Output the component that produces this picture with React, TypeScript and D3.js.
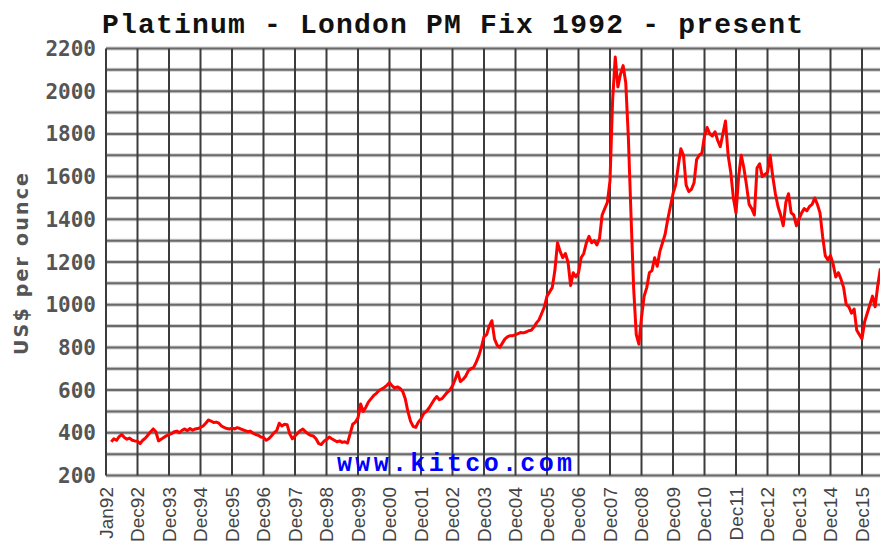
import React, { useEffect, useRef } from 'react';
import * as d3 from 'd3';

// Monthly London PM fix, US$ per ounce, starting March 1992
const startYear = 1992;
const startMonth = 2; // 0 = Jan
const monthlyPrices: number[] = [
  // 1992 (Mar-Dec)
  358, 372, 365, 382, 392, 378, 370, 375, 365, 362,
  // 1993
  360, 350, 365, 375, 390, 405, 418, 405, 362, 370, 378, 386,
  // 1994
  392, 396, 405, 408, 400, 412, 418, 410, 420, 412, 418, 420,
  // 1995
  425, 432, 445, 460, 455, 448, 450, 445, 432, 425, 420, 418,
  // 1996
  422, 418, 424, 420, 415, 410, 405, 408, 398, 392, 388, 380,
  // 1997
  378, 365, 372, 385, 400, 410, 445, 432, 440, 438, 395, 372,
  // 1998
  385, 398, 410, 418, 405, 395, 388, 385, 372, 350, 345, 360,
  // 1999
  368, 380, 372, 365, 358, 362, 355, 358, 352, 395, 440, 450,
  // 2000
  470, 535, 500, 520, 545, 560, 575, 585, 598, 605, 612, 622,
  // 2001
  635, 620, 610, 615, 608, 595, 560, 500, 455, 430, 425, 450,
  // 2002
  465, 490, 500, 515, 535, 555, 570, 555, 560, 575, 590, 600,
  // 2003
  620, 650, 685, 640, 650, 665, 690, 700, 705, 730, 760, 800,
  // 2004
  850, 860, 900, 925, 840, 810, 800, 820, 840, 850, 855, 855,
  // 2005
  860, 865, 870, 868, 872, 878, 880, 895, 915, 930, 960, 990,
  // 2006
  1040, 1060, 1080, 1160, 1290, 1250, 1220, 1240, 1200, 1090, 1150, 1130,
  // 2007
  1150, 1220, 1240, 1290, 1320, 1290, 1300, 1280, 1310, 1420, 1450, 1480,
  // 2008
  1580, 1960, 2160, 2020, 2080, 2120, 2040, 1780, 1420, 1080, 860, 815,
  // 2009
  940, 1040, 1080, 1150, 1160, 1220, 1180, 1250, 1290, 1330, 1400, 1460,
  // 2010
  1520, 1560, 1650, 1730, 1700, 1560, 1530, 1540, 1570, 1680, 1700, 1710,
  // 2011
  1790, 1830, 1800, 1790, 1810, 1770, 1740, 1800, 1860, 1700, 1620, 1500,
  // 2012
  1430, 1600, 1700, 1640, 1560, 1470, 1450, 1420, 1640, 1660, 1600, 1610,
  // 2013
  1620, 1700, 1600, 1520, 1460, 1420, 1370, 1480, 1520, 1430, 1420, 1370,
  // 2014
  1400, 1430, 1450, 1440, 1460, 1470, 1500, 1470, 1430, 1320, 1230, 1210,
  // 2015
  1230, 1190, 1130, 1150, 1120, 1080, 1000, 990, 960, 980, 880, 860,
  // 2016
  840, 920, 960, 1000, 1040, 990, 1090, 1170,
];

const xTickLabels = [
  'Jan92', 'Dec92', 'Dec93', 'Dec94', 'Dec95', 'Dec96', 'Dec97', 'Dec98',
  'Dec99', 'Dec00', 'Dec01', 'Dec02', 'Dec03', 'Dec04', 'Dec05', 'Dec06',
  'Dec07', 'Dec08', 'Dec09', 'Dec10', 'Dec11', 'Dec12', 'Dec13', 'Dec14', 'Dec15',
];
const yTicks = [200, 400, 600, 800, 1000, 1200, 1400, 1600, 1800, 2000, 2200];
const yGrid = d3.range(200, 2201, 100);

const App = () => {
  const svgRef = useRef<SVGSVGElement>(null);
  const width = 880;
  const height = 543;

  useEffect(() => {
    const svg = d3.select(svgRef.current);
    svg.selectAll('*').remove();

    const left = 106;
    const top = 48.5;
    const bottom = 475.5;

    const x = d3.scaleLinear().domain([startYear, startYear + 24]).range([left, 862]);
    const y = d3.scaleLinear().domain([200, 2200]).range([bottom, top]);

    svg.append('rect').attr('width', width).attr('height', height).attr('fill', '#fff');

    // Title
    svg.append('text')
      .attr('x', 102)
      .attr('y', 33)
      .attr('textLength', 701)
      .attr('lengthAdjust', 'spacing')
      .style('font-family', '"Liberation Mono", "DejaVu Sans Mono", monospace')
      .style('font-weight', 'bold')
      .style('font-size', '28px')
      .style('fill', '#111')
      .text('Platinum - London PM Fix 1992 - present');

    // Horizontal grid
    const g = svg.append('g');
    g.selectAll('.hgrid-soft')
      .data(yGrid)
      .join('line')
      .attr('x1', left)
      .attr('x2', width)
      .attr('y1', d => y(d))
      .attr('y2', d => y(d))
      .attr('stroke', '#cfcfcf')
      .attr('stroke-width', 4);
    g.selectAll('.hgrid')
      .data(yGrid)
      .join('line')
      .attr('x1', left)
      .attr('x2', width)
      .attr('y1', d => y(d))
      .attr('y2', d => y(d))
      .attr('stroke', '#6a6a6a')
      .attr('stroke-width', 2);

    // Vertical grid
    g.selectAll('.vgrid')
      .data(xTickLabels)
      .join('line')
      .attr('x1', (d, i) => x(startYear + i))
      .attr('x2', (d, i) => x(startYear + i))
      .attr('y1', top)
      .attr('y2', bottom)
      .attr('stroke', '#3c3c3c')
      .attr('stroke-width', 2);

    // Price line
    const points = monthlyPrices.map((v, i) => ({
      t: startYear + (startMonth + i) / 12,
      v,
    }));
    const line = d3.line<{ t: number; v: number }>()
      .x(d => x(d.t))
      .y(d => y(d.v));

    svg.append('path')
      .datum(points)
      .attr('d', line)
      .attr('fill', 'none')
      .attr('stroke', '#ff0000')
      .attr('stroke-width', 3)
      .attr('stroke-linejoin', 'round');

    // Watermark
    svg.append('text')
      .attr('x', 337)
      .attr('y', 471)
      .attr('textLength', 235)
      .attr('lengthAdjust', 'spacing')
      .style('font-family', '"Liberation Mono", "DejaVu Sans Mono", monospace')
      .style('font-weight', 'bold')
      .style('font-size', '25px')
      .style('fill', '#0000ff')
      .text('www.kitco.com');

    // Y tick labels
    svg.selectAll('.ylabel')
      .data(yTicks)
      .join('text')
      .attr('x', 96)
      .attr('y', d => y(d))
      .attr('dy', '0.36em')
      .attr('text-anchor', 'end')
      .style('font-family', '"DejaVu Sans Mono", monospace')
      .style('font-weight', 'bold')
      .style('font-size', '21px')
      .style('fill', '#555')
      .text(d => d);

    // X tick labels
    svg.selectAll('.xlabel')
      .data(xTickLabels)
      .join('text')
      .attr('transform', (d, i) => `translate(${x(startYear + i)}, 487) rotate(-90)`)
      .attr('dy', '0.35em')
      .attr('text-anchor', 'end')
      .style('font-family', '"Liberation Sans", Arial, sans-serif')
      .style('font-size', '19px')
      .style('fill', '#444')
      .text(d => d);

    // Y axis title
    svg.append('text')
      .attr('transform', 'translate(21.5, 264) rotate(-90)')
      .attr('dy', '0.36em')
      .attr('text-anchor', 'middle')
      .attr('textLength', 182)
      .attr('lengthAdjust', 'spacing')
      .style('font-family', '"DejaVu Sans", sans-serif')
      .style('font-weight', 'bold')
      .style('font-size', '19px')
      .style('fill', '#555')
      .text('US$ per ounce');
  }, []);

  return (
    <svg
      ref={svgRef}
      width={width}
      height={height}
      style={{ position: 'absolute', left: 0, top: 0 }}
    />
  );
};

export default App;
